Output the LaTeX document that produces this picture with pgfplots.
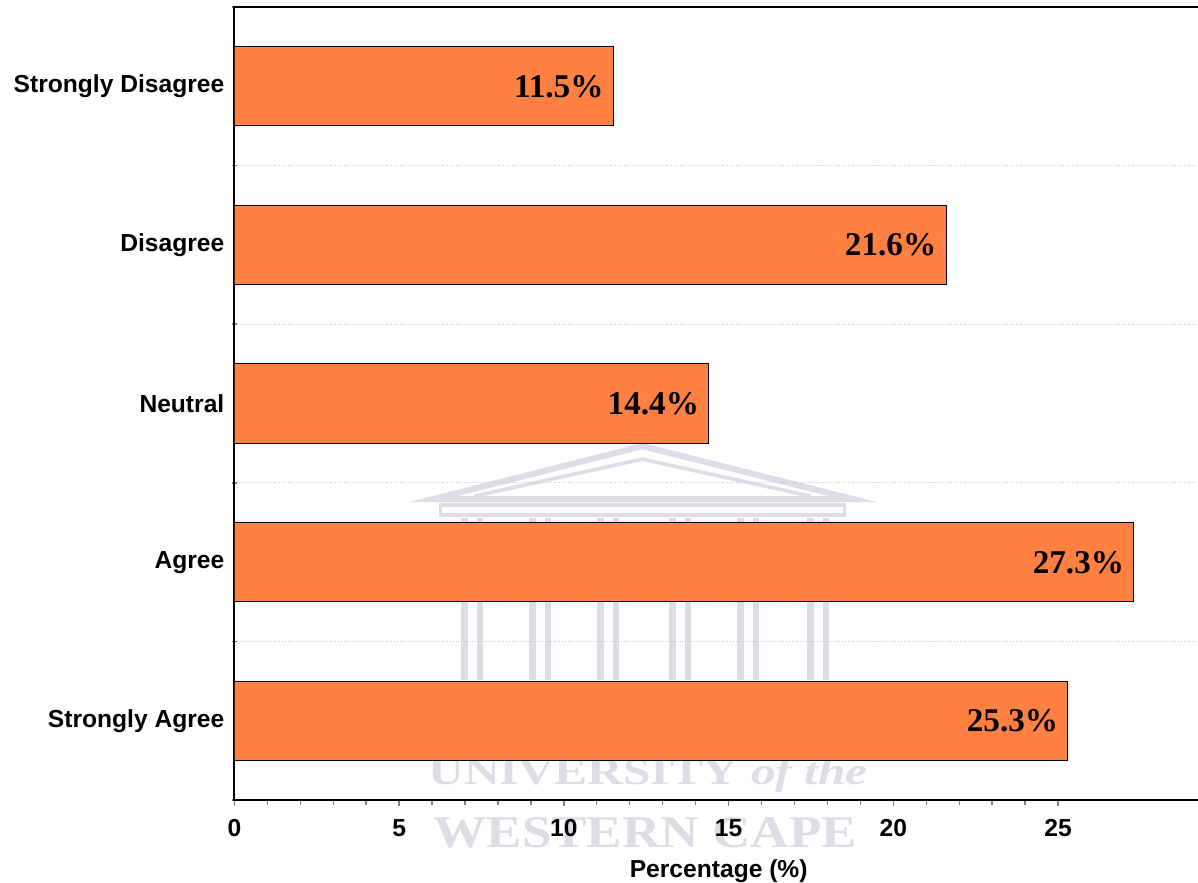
\documentclass[border=0pt]{standalone}
\usepackage{fontspec}
\setmainfont{Liberation Sans}
\newfontfamily\timesfont{Liberation Serif}
\usepackage{pgfplots}
\pgfplotsset{compat=1.18}

\definecolor{barorange}{RGB}{255,128,64}
\definecolor{crest}{RGB}{220,222,230}

\begin{document}
\begin{tikzpicture}
% faint crest in the background
\begin{scope}[crest]
  \draw[line width=3pt, line join=miter] (99.4pt,150.5pt) -- (203.9pt,177pt) -- (309.4pt,150.5pt) -- cycle;
  \draw[line width=1.8pt, line join=miter] (120pt,152pt) -- (203.9pt,170.5pt) -- (288pt,152pt);
  \draw[line width=1.8pt] (103pt,142.5pt) rectangle (305pt,147.5pt);
  \foreach \c in {118.9,152.9,186.9,222.9,256.9,291.9}{
    \fill (\c pt-5.5pt,60pt) rectangle (\c pt-2.2pt,141pt);
    \fill (\c pt+2.2pt,60pt) rectangle (\c pt+5.5pt,141pt);
  }
  \node[anchor=base, font=\timesfont\bfseries\fontsize{19}{20}\selectfont, xscale=1.3]
    at (206.8pt,8pt) {UNIVERSITY \textit{of the}};
  \node[anchor=base, font=\timesfont\bfseries\fontsize{22.7}{24}\selectfont, xscale=1.17]
    at (205.4pt,-23.5pt) {WESTERN CAPE};
\end{scope}

\begin{axis}[
  x=16.47pt, y=79.3pt,
  xmin=0, xmax=29.4,
  ymin=-0.5, ymax=4.5,
  xbar, bar width=39.6pt,
  axis line style={line width=1pt},
  tick align=outside,
  xtick pos=left, ytick pos=left,
  xtick={0,5,...,25},
  minor x tick num=4,
  major tick length=3pt,
  minor tick length=2.4pt,
  ytick={0,...,4},
  yticklabels={Strongly Agree, Agree, Neutral, Disagree, Strongly Disagree},
  minor ytick={-0.5,0.5,...,4.5},
  major y tick style={draw=none},
  minor y tick style={line width=0.8pt, xshift=1.2pt},
  minor x tick style={line width=0.7pt},
  major x tick style={line width=0.8pt},
  yminorgrids=true,
  minor grid style={densely dotted, gray!45, line width=0.5pt},
  /pgf/number format/assume math mode=true,
  tick label style={font=\bfseries\fontsize{12.3}{14}\selectfont},
  xticklabel style={anchor=base, yshift=-15pt},
  yticklabel style={xshift=1.5pt},
  xlabel={Percentage (\%)},
  xlabel style={at={(axis description cs:0.5,0)}, anchor=base, yshift=-38.5pt,
                font=\bfseries\fontsize{12.3}{14}\selectfont},
  point meta=x,
  nodes near coords={\timesfont\bfseries\pgfmathprintnumber[fixed,fixed zerofill,precision=1]{\pgfplotspointmeta}\%},
  nodes near coords style={anchor=east, xshift=-1.3pt, font=\fontsize{16.6}{18}\selectfont, text=black},
]
\addplot[fill=barorange, draw=black, line width=0.5pt]
  coordinates {(25.3,0) (27.3,1) (14.4,2) (21.6,3) (11.5,4)};
\end{axis}
\pgfresetboundingbox
\path (-117.15pt,-41pt) rectangle (481.7pt,400pt);
\end{tikzpicture}
\end{document}
